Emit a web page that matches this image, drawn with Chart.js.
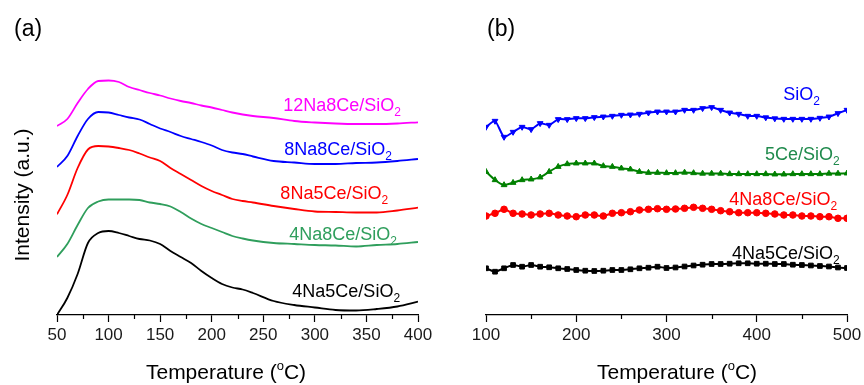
<!DOCTYPE html>
<html>
<head>
<meta charset="utf-8">
<script src="https://cdn.jsdelivr.net/npm/chart.js@4.4.1/dist/chart.umd.min.js"></script>
<style>
  body { margin: 0; background: #fff; }
  #wrap { width: 864px; height: 385px; display: flex; }
  canvas { display: block; }
</style>
</head>
<body>
<div id="wrap">
  <canvas id="chartA" width="432" height="385"></canvas>
  <canvas id="chartB" width="432" height="385"></canvas>
</div>
<script>
// (a) temperaturas e curvas (intensidade deslocada, u.a.)
const tempA = [50, 60, 70, 80, 90, 100, 110, 120, 130, 140, 150, 160, 170, 180, 190, 200, 210, 220, 230, 240, 260, 280, 300, 320, 340, 360, 380, 400];
const a_4Na5Ce = [0, 17, 41, 72, 82, 84, 82, 79, 76, 74.5, 71, 64, 58, 52, 44, 37, 31, 27.5, 25.5, 22, 14, 10, 7.5, 5, 4.5, 6, 8.5, 13.3];
const a_4Na8Ce = [58, 71, 90, 107, 113.5, 115.5, 115.5, 115.5, 115, 112.5, 111, 108.5, 103, 96.5, 91, 87, 83, 79, 76.5, 74.5, 72, 71, 70, 69.5, 68.5, 70, 71, 73];
const a_8Na5Ce = [100.7, 120, 147, 165.5, 169, 168.5, 167, 165, 161.5, 157.5, 154, 147, 141, 135, 129, 124, 120, 116, 114, 112.5, 109, 106, 103.5, 103, 102.5, 102.5, 104.5, 107.3];
const a_8Na8Ce = [148, 159, 179, 196, 203, 202.5, 200, 197.5, 195.5, 191, 186.5, 183, 179, 176, 173, 169.5, 165, 162.5, 161, 158.5, 154, 152.5, 151, 151, 152, 152.5, 154, 156];
const a_12Na8Ce = [189, 196, 212, 226, 234, 234.5, 233, 228, 225, 222, 219.5, 216.5, 214, 212, 209.5, 207.5, 205, 202.5, 200.5, 199, 197, 194, 192.5, 191.5, 191, 191, 191.5, 192.7];

// (b)
const tempB = [100, 110, 120, 130, 140, 150, 160, 170, 180, 190, 200, 210, 220, 230, 240, 250, 260, 270, 280, 290, 300, 310, 320, 330, 340, 350, 360, 370, 380, 390, 400, 410, 420, 430, 440, 450, 460, 470, 480, 490, 500];
const b_SiO2 = [188, 194, 178, 183, 188, 185.7, 191.7, 190, 195.7, 195.7, 196.7, 196.7, 197.7, 198.3, 199, 200, 200.3, 201, 202.3, 203.3, 203.3, 203.3, 205, 205, 206.7, 207.7, 205, 202.3, 201, 199, 199, 197.5, 196.5, 196, 196, 196, 196, 197, 198.3, 201.7, 205];
const b_5Ce = [143.3, 135, 130, 132.3, 135, 135.7, 137.7, 143.3, 148.3, 151, 151.7, 151.7, 151.7, 149, 148.3, 146.7, 145.7, 143.3, 142.3, 142.3, 142, 142, 142.5, 142, 141.5, 141.5, 141.5, 141, 141, 141, 141, 141, 140.7, 140.7, 141, 141, 141, 141, 141.5, 141.5, 141.7];
const b_4Na8Ce = [99, 101.7, 105.7, 101.7, 101, 100, 101, 101.7, 100, 99, 98.3, 100, 100, 99, 101.7, 102.3, 103.3, 105, 105.7, 106.3, 105.7, 106, 106.7, 107.7, 106.7, 105.7, 104.3, 103.3, 102.3, 102.3, 102.3, 101.7, 101, 100, 100, 99, 99, 98.3, 98.3, 96.7, 96.7];
const b_4Na5Ce = [46.7, 43.3, 46.7, 50, 48.3, 50, 48.3, 47.7, 46.7, 46, 45, 44.3, 44, 44.3, 45, 45, 45.7, 46.7, 47.3, 48.3, 47, 47.5, 48.5, 49.5, 50.3, 51, 51, 51.3, 51.7, 51.7, 51.3, 51.3, 51, 51, 50.3, 50, 49.5, 49, 48.5, 47.5, 47];

const FONT = "'Liberation Sans', Arial, sans-serif";
const GREEN_A = "#2f9e5c";

function pts(xs, ys) {
  return xs.map((x, i) => ({ x, y: ys[i] }));
}

function drawChem(ctx, main, sub, xRight, yBase, color) {
  ctx.font = "18px " + FONT;
  const wMain = ctx.measureText(main).width;
  ctx.font = "12px " + FONT;
  const wSub = ctx.measureText(sub).width;
  const x0 = xRight - wMain - wSub;
  ctx.fillStyle = color;
  ctx.textAlign = "left";
  ctx.textBaseline = "alphabetic";
  ctx.font = "18px " + FONT;
  ctx.fillText(main, x0, yBase);
  ctx.font = "12px " + FONT;
  ctx.fillText(sub, x0 + wMain, yBase + 5);
}

const panelText = {
  id: "panelText",
  afterDraw(chart, args, o) {
    const ctx = chart.ctx;
    const xs = chart.scales.x, ys = chart.scales.y;
    ctx.save();

    // minor ticks
    ctx.strokeStyle = "#000";
    ctx.lineWidth = 1.2;
    xs.ticks.forEach(t => {
      if (t.value % o.major !== 0) {
        const px = Math.round(xs.getPixelForValue(t.value)) + 0.5;
        ctx.beginPath();
        ctx.moveTo(px, xs.top);
        ctx.lineTo(px, xs.top + 4);
        ctx.stroke();
      }
    });

    // letra do painel
    ctx.fillStyle = "#000";
    ctx.font = "23px " + FONT;
    ctx.textAlign = "left";
    ctx.textBaseline = "alphabetic";
    ctx.fillText(o.letter, o.letterX, 36);

    // titulo do eixo x com sobrescrito
    const t1 = "Temperature (", t2 = "o", t3 = "C)";
    ctx.font = "21px " + FONT;
    const w1 = ctx.measureText(t1).width, w3 = ctx.measureText(t3).width;
    ctx.font = "13px " + FONT;
    const w2 = ctx.measureText(t2).width;
    let x = o.titleX - (w1 + w2 + w3) / 2;
    ctx.font = "21px " + FONT;
    ctx.fillText(t1, x, 379);
    ctx.font = "13px " + FONT;
    ctx.fillText(t2, x + w1, 370);
    ctx.font = "21px " + FONT;
    ctx.fillText(t3, x + w1 + w2, 379);

    // titulo do eixo y
    if (o.yTitle) {
      ctx.save();
      ctx.translate(23, 195);
      ctx.rotate(-Math.PI / 2);
      ctx.textAlign = "center";
      ctx.textBaseline = "middle";
      ctx.font = "21px " + FONT;
      ctx.fillText(o.yTitle, 0, 0);
      ctx.restore();
    }

    // rotulos das series
    o.labels.forEach(l => {
      drawChem(ctx, l.main, l.sub, xs.getPixelForValue(l.x), ys.getPixelForValue(l.y), l.color);
    });
    ctx.restore();
  }
};

function xScale(min, max, step, major) {
  return {
    type: "linear",
    min, max,
    afterFit: s => { s.height = 70; s.paddingLeft = 0; s.paddingRight = 0; },
    border: { display: true, color: "#000", width: 1.3 },
    grid: {
      display: true,
      drawOnChartArea: false,
      drawTicks: true,
      tickLength: 7,
      tickWidth: 1.2,
      tickColor: c => (c.tick && c.tick.value % major === 0) ? "#000" : "rgba(0,0,0,0)"
    },
    ticks: {
      stepSize: step,
      autoSkip: false,
      maxRotation: 0,
      padding: 3,
      color: "#1a1a1a",
      font: { family: FONT, size: 17 },
      callback: v => (v % major === 0 ? v : "")
    }
  };
}

const yScale = { type: "linear", min: 0, max: 250, display: false };

function lineA(data, color) {
  return { data: pts(tempA, data), borderColor: color, borderWidth: 1.8, pointRadius: 0, cubicInterpolationMode: "monotone", fill: false };
}

function lineB(data, color, style, rot) {
  return {
    data: pts(tempB, data), borderColor: color, backgroundColor: color, borderWidth: 2,
    pointStyle: style, pointRotation: rot || 0, pointRadius: 3.3, pointBorderWidth: 1,
    tension: 0.2, fill: false
  };
}

new Chart(document.getElementById("chartA"), {
  type: "line",
  data: {
    datasets: [
      lineA(a_4Na5Ce, "#000000"),
      lineA(a_4Na8Ce, GREEN_A),
      lineA(a_8Na5Ce, "#ff0000"),
      lineA(a_8Na8Ce, "#0000ff"),
      lineA(a_12Na8Ce, "#ff00ff")
    ]
  },
  options: {
    responsive: false,
    animation: false,
    layout: { padding: { left: 57, right: 14, top: 65, bottom: 0 } },
    scales: { x: xScale(50, 400, 25, 50), y: yScale },
    plugins: {
      legend: { display: false },
      tooltip: { enabled: false },
      panelText: {
        letter: "(a)", letterX: 14, titleX: 226, major: 50, yTitle: "Intensity (a.u.)",
        labels: [
          { main: "12Na8Ce/SiO", sub: "2", x: 383.5, y: 204, color: "#ff00ff" },
          { main: "8Na8Ce/SiO", sub: "2", x: 374.8, y: 160.5, color: "#0000ff" },
          { main: "8Na5Ce/SiO", sub: "2", x: 371, y: 116, color: "#ff0000" },
          { main: "4Na8Ce/SiO", sub: "2", x: 379.6, y: 75, color: GREEN_A },
          { main: "4Na5Ce/SiO", sub: "2", x: 382.6, y: 18, color: "#000000" }
        ]
      }
    }
  },
  plugins: [panelText]
});

new Chart(document.getElementById("chartB"), {
  type: "line",
  data: {
    datasets: [
      lineB(b_4Na5Ce, "#000000", "rect"),
      lineB(b_4Na8Ce, "#ff0000", "circle"),
      lineB(b_5Ce, "#008000", "triangle"),
      lineB(b_SiO2, "#0000ff", "triangle", 180)
    ]
  },
  options: {
    responsive: false,
    animation: false,
    layout: { padding: { left: 54, right: 17, top: 65, bottom: 0 } },
    scales: { x: xScale(100, 500, 50, 100), y: yScale },
    plugins: {
      legend: { display: false },
      tooltip: { enabled: false },
      panelText: {
        letter: "(b)", letterX: 55, titleX: 245, major: 100, yTitle: null,
        labels: [
          { main: "SiO", sub: "2", x: 470, y: 215, color: "#0000ff" },
          { main: "5Ce/SiO", sub: "2", x: 492, y: 155, color: "#1f8a4c" },
          { main: "4Na8Ce/SiO", sub: "2", x: 489, y: 110, color: "#ff0000" },
          { main: "4Na5Ce/SiO", sub: "2", x: 492, y: 56.5, color: "#000000" }
        ]
      }
    }
  },
  plugins: [panelText]
});
</script>
</body>
</html>
